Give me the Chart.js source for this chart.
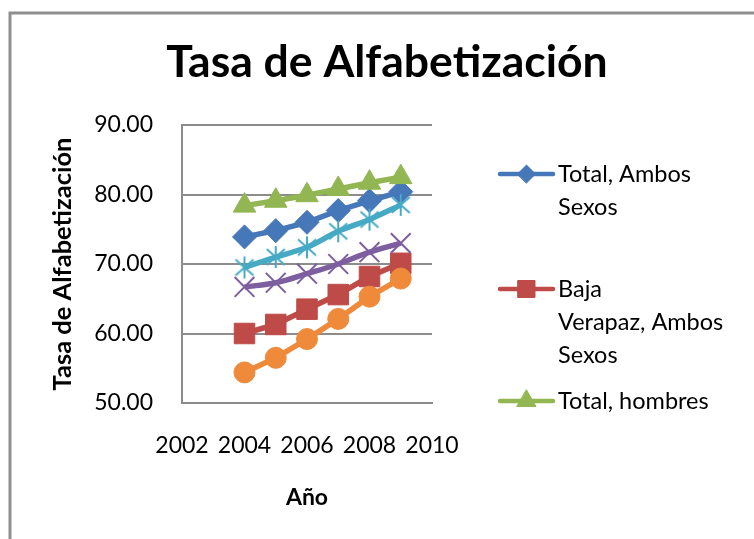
<!DOCTYPE html>
<html>
<head>
<meta charset="utf-8">
<script src="https://cdn.jsdelivr.net/npm/chart.js@4.4.1/dist/chart.umd.min.js"></script>
<style>
  html, body { margin: 0; padding: 0; background: #fff; }
  #wrap { width: 754px; height: 539px; }
</style>
</head>
<body>
<div id="wrap"><canvas id="c" width="754" height="539"></canvas></div>
<script>
// ---- data ----
const years = [2004, 2005, 2006, 2007, 2008, 2009];
const totalAmbos   = [73.9, 74.8, 76.0, 77.7, 79.1, 80.4];
const bajaAmbos    = [60.0, 61.3, 63.5, 65.6, 68.2, 70.1];
const totalHombres = [78.4, 79.1, 79.9, 80.8, 81.7, 82.5];
const bajaHombres  = [66.7, 67.3, 68.6, 70.0, 71.7, 73.0];
const totalMujeres = [69.5, 71.0, 72.4, 74.7, 76.4, 78.5];
const bajaMujeres  = [54.4, 56.5, 59.2, 62.1, 65.3, 67.9];
const seriesNames = ['Total, Ambos Sexos', 'Baja Verapaz, Ambos Sexos', 'Total, hombres',
                     'Baja Verapaz, hombres', 'Total, mujeres', 'Baja Verapaz, mujeres'];
const xTicks = [2002, 2004, 2006, 2008, 2010];
const yTicks = [50, 60, 70, 80, 90];
const chartTitle = 'Tasa de Alfabetización';
const yTitle = 'Tasa de Alfabetización';
const xTitle = 'Año';

// ---- styling ----
const FONT = 'Lato';
const colors = ['#4677B8', '#BE4B48', '#92B651', '#7D5FA0', '#46AAC5', '#EE8A3A'];

function asteriskMarker(color) {
  const c = document.createElement('canvas');
  c.width = 24; c.height = 24;
  const g = c.getContext('2d');
  g.strokeStyle = color; g.lineWidth = 2;
  g.beginPath();
  g.moveTo(12, 1); g.lineTo(12, 23);
  g.moveTo(3, 4); g.lineTo(21, 20);
  g.moveTo(21, 4); g.lineTo(3, 20);
  g.stroke();
  return c;
}

const markerStyles = [
  { pointStyle: 'rectRot', radius: 12, border: 1, tension: 0 },
  { pointStyle: 'rect', radius: 14.5, border: 1, tension: 0 },
  { pointStyle: 'triangle', radius: 13, border: 1, tension: 0 },
  { pointStyle: 'crossRot', radius: 14, border: 2, tension: 0.4 },
  { pointStyle: asteriskMarker(colors[4]), radius: 11, border: 2, tension: 0.3 },
  { pointStyle: 'circle', radius: 10.5, border: 1, tension: 0 }
];

const allSeries = [totalAmbos, bajaAmbos, totalHombres, bajaHombres, totalMujeres, bajaMujeres];

const datasets = allSeries.map((vals, i) => ({
  label: seriesNames[i],
  data: years.map((y, j) => ({ x: y, y: vals[j] })),
  borderColor: colors[i],
  backgroundColor: colors[i],
  borderWidth: 5.5,
  pointStyle: markerStyles[i].pointStyle,
  pointRadius: markerStyles[i].radius,
  pointBackgroundColor: colors[i],
  pointBorderColor: colors[i],
  pointBorderWidth: markerStyles[i].border,
  tension: markerStyles[i].tension,
  fill: false,
  order: 6 - i
}));

// legend entries shown in the reference (first three series), with Excel-like wrapping
const legendEntries = [
  { ds: 0, lines: ['Total, Ambos', 'Sexos'] },
  { ds: 1, lines: ['Baja', 'Verapaz, Ambos', 'Sexos'] },
  { ds: 2, lines: ['Total, hombres'] }
];

const framePlugin = {
  id: 'frame',
  beforeDraw(chart) {
    const ctx = chart.ctx;
    ctx.save();
    ctx.fillStyle = '#ffffff';
    ctx.fillRect(0, 0, chart.width, chart.height);
    ctx.strokeStyle = '#8f8f8f';
    ctx.lineWidth = 3;
    ctx.strokeRect(10, 13, chart.width + 20, chart.height + 20);
    ctx.restore();
  }
};

const legendPlugin = {
  id: 'excelLegend',
  afterDraw(chart) {
    const ctx = chart.ctx;
    const area = chart.chartArea;
    const lineStart = area.right + 68;
    const lineEnd = lineStart + 53;
    const textX = lineEnd + 5;
    const rowY = [area.top + 49, area.top + 164, area.top + 276];
    const lineGap = 33;
    const legendRadius = [9, 12, 11];
    ctx.save();
    legendEntries.forEach((e, k) => {
      const ds = chart.data.datasets[e.ds];
      const y = rowY[k];
      ctx.strokeStyle = ds.borderColor;
      ctx.lineWidth = 4.5;
      ctx.lineCap = 'round';
      ctx.beginPath();
      ctx.moveTo(lineStart, y);
      ctx.lineTo(lineEnd, y);
      ctx.stroke();
      ctx.fillStyle = ds.pointBackgroundColor;
      ctx.strokeStyle = ds.pointBorderColor;
      ctx.lineWidth = 1;
      Chart.helpers.drawPoint(ctx, {
        pointStyle: ds.pointStyle, rotation: 0, radius: legendRadius[k], borderWidth: 1
      }, (lineStart + lineEnd) / 2, y);
      ctx.fillStyle = '#000';
      ctx.font = '23.5px ' + FONT;
      ctx.textAlign = 'left';
      ctx.textBaseline = 'middle';
      e.lines.forEach((t, m) => ctx.fillText(t, textX, y + m * lineGap));
    });
    ctx.restore();
  }
};

const PLOT_LEFT = 182, PLOT_RIGHT = 432;

new Chart(document.getElementById('c'), {
  type: 'line',
  data: { datasets },
  plugins: [framePlugin, legendPlugin],
  options: {
    responsive: false,
    animation: false,
    devicePixelRatio: 1,
    layout: { padding: { left: 20, right: 0, top: 9, bottom: 28 } },
    plugins: {
      legend: { display: false },
      tooltip: { enabled: false },
      title: {
        display: true,
        text: chartTitle,
        color: '#000',
        font: { family: FONT, size: 44.5, weight: 'bold' },
        padding: { top: 27, bottom: 35.6 }
      }
    },
    scales: {
      x: {
        type: 'linear',
        min: xTicks[0],
        max: xTicks[xTicks.length - 1],
        afterBuildTicks(s) { s.ticks = xTicks.map(v => ({ value: v })); },
        afterFit(s) { s.height = 108; },
        grid: { display: false, drawTicks: false },
        border: { display: true, color: '#8c8c8c', width: 2 },
        ticks: {
          autoSkip: false, maxRotation: 0, minRotation: 0,
          padding: 29, color: '#000',
          font: { family: FONT, size: 23 },
          callback: v => String(v)
        },
        title: {
          display: true, text: xTitle, color: '#000',
          font: { family: FONT, size: 23, weight: 'bold' },
          padding: { top: 0, bottom: 0 }
        }
      },
      y: {
        type: 'linear',
        min: yTicks[0],
        max: yTicks[yTicks.length - 1],
        afterBuildTicks(s) { s.ticks = yTicks.map(v => ({ value: v })); },
        afterFit(s) { s.width = PLOT_LEFT - 20; },
        grid: { color: '#8c8c8c', lineWidth: 2, drawTicks: false },
        border: { display: true, color: '#8c8c8c', width: 2 },
        ticks: {
          padding: 29, color: '#000',
          font: { family: FONT, size: 23 },
          callback: v => Number(v).toFixed(2)
        },
        title: {
          display: true, text: yTitle, color: '#000',
          font: { family: FONT, size: 25.5, weight: 'bold' },
          padding: { top: 27, bottom: 0 }
        }
      },
      spacer: {
        type: 'linear', position: 'right', min: 0, max: 1,
        afterFit(s) { s.width = 754 - PLOT_RIGHT; },
        grid: { display: false, drawTicks: false },
        border: { display: false },
        ticks: { display: false }
      }
    }
  }
});
</script>
</body>
</html>
